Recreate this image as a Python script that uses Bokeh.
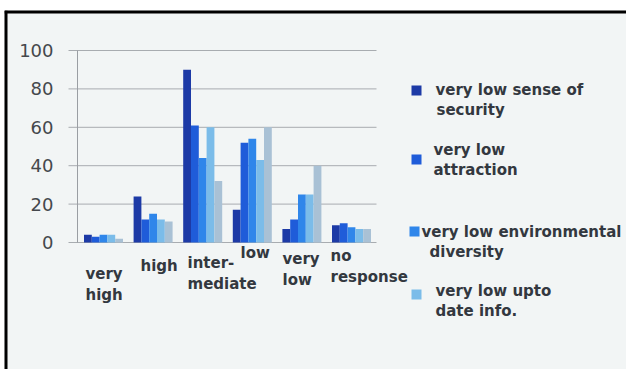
from bokeh.plotting import figure
from bokeh.models import Range1d
from bokeh.core.properties import value
from bokeh.embed import file_html
from bokeh.resources import INLINE

# ---- data -------------------------------------------------------------
categories = ["very high", "high", "intermediate", "low", "very low", "no response"]
category_labels = ["very\nhigh", "high", "inter-\nmediate", "low", "very\nlow", "no\nresponse"]

security = [4, 24, 90, 17, 7, 9]
attraction = [3, 12, 61, 52, 12, 10]
env_diversity = [4, 15, 44, 54, 25, 8]
upto_date = [4, 12, 60, 43, 25, 7]
fifth_series = [2, 11, 32, 60, 40, 7]

legend_labels = [
    "very low sense of\nsecurity",
    "very low\nattraction",
    "very low environmental\ndiversity",
    "very low upto\ndate info.",
]
y_ticks = [0, 20, 40, 60, 80, 100]

# ---- layout (pixels) --------------------------------------------------
W, H = 626, 369
LEFT, TOP = 4, 10          # frame offset inside the canvas
GROUP_PX = 49.6            # distance between category centres
X0_PX = 103                # centre of the first category
ZERO_PX = 242              # screen row of value 0
UNIT_PX = 1.92             # pixels per percent
BAR_PX = 7.8

def px_x(X):
    return (X - X0_PX) / GROUP_PX

def px_y(Y):
    return (ZERO_PX - Y) / UNIT_PX

FONT = value("DejaVu Sans")
TEXT_COLOR = "#33383f"

p = figure(
    width=W, height=H,
    x_range=Range1d(px_x(LEFT), px_x(W)),
    y_range=Range1d(px_y(H), px_y(TOP)),
    x_axis_type=None, y_axis_type=None,
    toolbar_location=None, output_backend="svg",
    min_border_left=LEFT, min_border_top=TOP,
    min_border_right=0, min_border_bottom=0,
    background_fill_color="#f2f5f5", border_fill_color="white",
    outline_line_color=None,
)

# frame border (top and left edges)
p.segment(x0=[px_x(LEFT), px_x(LEFT)], y0=[px_y(TOP), px_y(TOP)],
          x1=[px_x(W), px_x(LEFT)], y1=[px_y(TOP), px_y(H)],
          line_color="black", line_width=6)

# gridlines and value axis
p.segment(x0=px_x(68), x1=px_x(376), y0=y_ticks, y1=y_ticks,
          line_color="#a8acb0", line_width=1)
p.segment(x0=[px_x(77)], x1=[px_x(77)], y0=[0], y1=[100],
          line_color="#9a9ea3", line_width=1)
p.text(x=px_x(53), y=y_ticks, text=[str(t) for t in y_ticks],
       text_font=FONT, text_font_size="18px", text_color="#45484c",
       text_align="right", text_baseline="middle")

# grouped bars
series = [security, attraction, env_diversity, upto_date, fifth_series]
colors = ["#1d3aa6", "#1f5cd9", "#2f86ea", "#7bbce9", "#a9c1d5"]
bw = BAR_PX / GROUP_PX
for k, (vals, col) in enumerate(zip(series, colors)):
    xs = [i + (k - 2) * bw for i in range(len(categories))]
    p.vbar(x=xs, top=vals, bottom=0, width=bw,
           fill_color=col, line_color=None)

# category labels
label_left_px = [85, 140, 187, 240, 282, 330]
label_row_px = [273, 265, 262, 252, 258, 255]
LINE_PX = 21
lx, ly, lt = [], [], []
for i, lab in enumerate(category_labels):
    for j, line in enumerate(lab.split("\n")):
        lx.append(px_x(label_left_px[i]))
        ly.append(px_y(label_row_px[i] + j * LINE_PX))
        lt.append(line)
p.text(x=lx, y=ly, text=lt, text_font=FONT, text_font_style="bold",
       text_font_size="15px", text_color=TEXT_COLOR,
       text_align="left", text_baseline="middle")

# legend
sq_x_px = [416, 416, 414, 416]
sq_y_px = [90, 159, 231, 294]
first_x_px = [435, 433, 421, 435]
second_x_px = [436, 433, 429, 435]
first_y_px = [89, 149, 231, 290]
LEG_LINE_PX = 20
p.rect(x=[px_x(v) for v in sq_x_px], y=[px_y(v) for v in sq_y_px],
       width=10, height=10, width_units="screen", height_units="screen",
       fill_color=colors[:4], line_color=None)
gx, gy, gt = [], [], []
for i, lab in enumerate(legend_labels):
    lines = lab.split("\n")
    for j, line in enumerate(lines):
        gx.append(px_x(first_x_px[i] if j == 0 else second_x_px[i]))
        gy.append(px_y(first_y_px[i] + j * LEG_LINE_PX))
        gt.append(line)
p.text(x=gx, y=gy, text=gt, text_font=FONT, text_font_style="bold",
       text_font_size="15px", text_color=TEXT_COLOR,
       text_align="left", text_baseline="middle")

open("out.html", "w").write(file_html(p, INLINE))
